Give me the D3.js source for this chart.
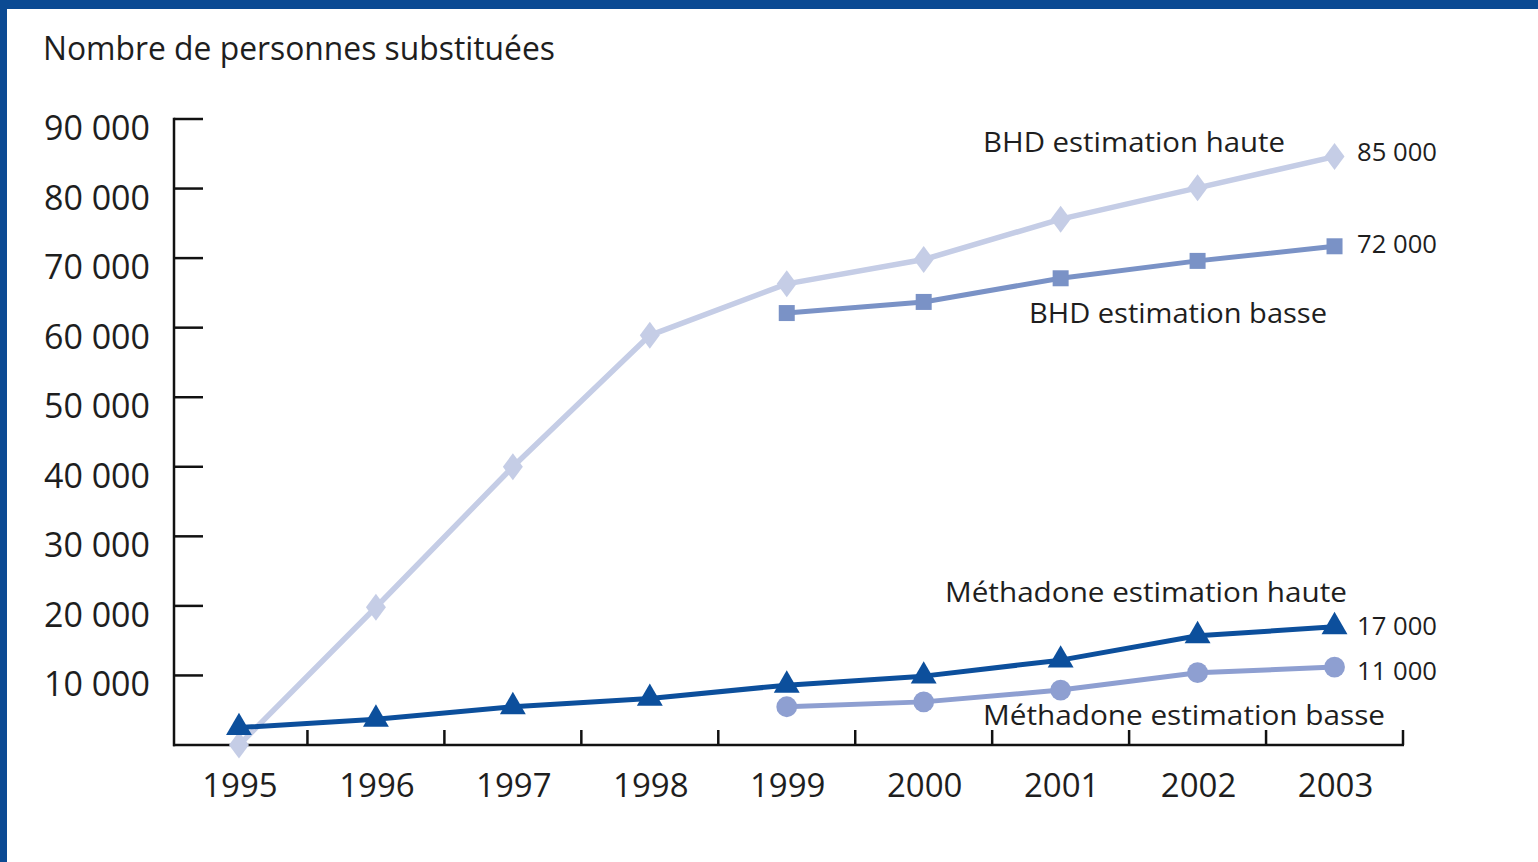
<!DOCTYPE html>
<html><head><meta charset="utf-8">
<script src="https://cdn.jsdelivr.net/npm/d3@7"></script>
<style>
html,body{margin:0;padding:0;background:#fff;}
svg{display:block;}
text{font-family:"Open Sans","Noto Sans",sans-serif;fill:#1e1e1e;}
</style></head>
<body>
<svg id="chart" width="1538" height="862"></svg>
<script>
const years = ["1995","1996","1997","1998","1999","2000","2001","2002","2003"];
const bhdHaute = [0, 19800, 40000, 58900, 66300, 69800, 75600, 80100, 84600];
const bhdBasse = [null, null, null, null, 62100, 63700, 67100, 69600, 71700];
const methHaute = [2500, 3700, 5500, 6700, 8600, 9900, 12200, 15700, 17000];
const methBasse = [null, null, null, null, 5500, 6200, 7900, 10400, 11200];
const yTicks = [10000,20000,30000,40000,50000,60000,70000,80000,90000];
const endLabels = ["85 000","72 000","17 000","11 000"];
const seriesNames = ["BHD estimation haute","BHD estimation basse","Méthadone estimation haute","Méthadone estimation basse"];
const title = "Nombre de personnes substituées";

const svg = d3.select("#chart");
const W = 1538, H = 862;

// frame
svg.append("rect").attr("x",0).attr("y",0).attr("width",W).attr("height",H).attr("fill","#fff");
svg.append("rect").attr("x",0).attr("y",0).attr("width",W).attr("height",9).attr("fill","#0b4a93");
svg.append("rect").attr("x",0).attr("y",0).attr("width",7).attr("height",H).attr("fill","#0b4a93");

const x = d3.scaleBand().domain(years).range([170.5,1403]).padding(0);
const y = d3.scaleLinear().domain([0,90000]).range([745,119]);
const cx = d => x(d) + x.bandwidth()/2;
const fmt = v => d3.format(",")(v).replace(/,/g," ");

// title
svg.append("text").attr("x",43).attr("y",60).attr("font-size",33)
  .attr("textLength",512).attr("lengthAdjust","spacingAndGlyphs").text(title);

// y axis
const axisCol = "#111";
svg.append("line").attr("x1",174).attr("x2",174).attr("y1",y(90000)-1.2).attr("y2",y(0)+1.2)
  .attr("stroke",axisCol).attr("stroke-width",2.5);
yTicks.forEach(t=>{
  svg.append("line").attr("x1",174).attr("x2",203).attr("y1",y(t)).attr("y2",y(t))
    .attr("stroke",axisCol).attr("stroke-width",2.5);
  svg.append("text").attr("x",150).attr("y",y(t)+21).attr("text-anchor","end")
    .attr("font-size",34).text(fmt(t));
});

// x axis
svg.append("line").attr("x1",173).attr("x2",1404).attr("y1",745).attr("y2",745)
  .attr("stroke",axisCol).attr("stroke-width",2.5);
years.forEach((yr,i)=>{
  const bx = x(yr) + x.bandwidth();
  svg.append("line").attr("x1",bx).attr("x2",bx).attr("y1",745).attr("y2",730)
    .attr("stroke",axisCol).attr("stroke-width",2.5);
  svg.append("text").attr("x",cx(yr)+1).attr("y",797).attr("text-anchor","middle")
    .attr("font-size",33).text(yr);
});

const series = [
  {vals:bhdHaute, color:"#c5cde6", marker:"diamond", w:5.5},
  {vals:bhdBasse, color:"#7a92c6", marker:"square", w:5},
  {vals:methBasse, color:"#8e9fd1", marker:"circle", w:5},
  {vals:methHaute, color:"#0c4f9c", marker:"triangle", w:5}
];
const line = d3.line().defined(d=>d.v!=null).x(d=>cx(d.k)).y(d=>y(d.v));
series.forEach(s=>{
  const pts = years.map((k,i)=>({k, v:s.vals[i]}));
  svg.append("path").datum(pts).attr("d",line).attr("fill","none")
    .attr("stroke",s.color).attr("stroke-width",s.w).attr("stroke-linejoin","round");
  pts.filter(d=>d.v!=null).forEach(d=>{
    const px = cx(d.k), py = y(d.v);
    let path;
    if (s.marker==="diamond") path = `M0,-13.5L10,0L0,13.5L-10,0Z`;
    else if (s.marker==="square") path = d3.symbol(d3.symbolSquare,256)();
    else if (s.marker==="circle") path = d3.symbol(d3.symbolCircle,340)();
    else path = d3.symbol(d3.symbolTriangle,290)();
    svg.append("path").attr("d",path).attr("transform",`translate(${px},${py})`).attr("fill",s.color);
  });
});

// series labels
svg.append("text").attr("x",1285).attr("y",152).attr("text-anchor","end").attr("font-size",28)
  .attr("textLength",302).attr("lengthAdjust","spacingAndGlyphs").text(seriesNames[0]);
svg.append("text").attr("x",1327).attr("y",323).attr("text-anchor","end").attr("font-size",28)
  .attr("textLength",298).attr("lengthAdjust","spacingAndGlyphs").text(seriesNames[1]);
svg.append("text").attr("x",1347).attr("y",602).attr("text-anchor","end").attr("font-size",28)
  .attr("textLength",402).attr("lengthAdjust","spacingAndGlyphs").text(seriesNames[2]);
svg.append("text").attr("x",1385).attr("y",725).attr("text-anchor","end").attr("font-size",28)
  .attr("textLength",402).attr("lengthAdjust","spacingAndGlyphs").text(seriesNames[3]);

// end value labels
const endY = [161,253,635,680];
endLabels.forEach((t,i)=>{
  svg.append("text").attr("x",1357).attr("y",endY[i]).attr("font-size",25.5)
    .attr("textLength",80).attr("lengthAdjust","spacingAndGlyphs").text(t);
});
</script>
</body></html>
